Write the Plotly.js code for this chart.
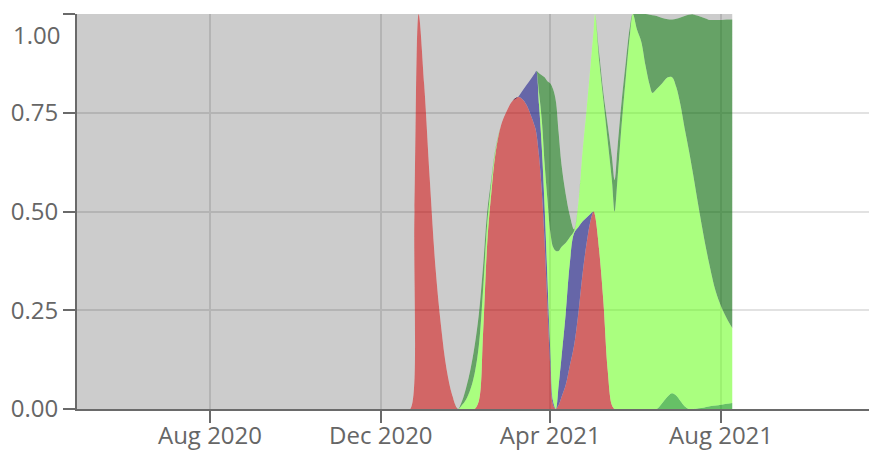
<!DOCTYPE html>
<html>
<head>
<meta charset="utf-8">
<script src="https://cdn.plot.ly/plotly-3.0.1.min.js"></script>
<style>html,body{margin:0;padding:0;background:#fff;}#chart{width:869px;height:452px;}</style>
</head>
<body>
<div id="chart"></div>
<script>
const dates = [
'2020-04-01','2020-06-01','2020-08-01','2020-10-01','2020-12-01','2020-12-15','2020-12-19',
'2020-12-22','2020-12-25','2020-12-28','2021-01-01','2021-01-05','2021-01-09','2021-01-13','2021-01-17','2021-01-21','2021-01-25',
'2021-01-28','2021-01-31','2021-02-03','2021-02-06','2021-02-09','2021-02-12','2021-02-15','2021-02-18','2021-02-21','2021-02-25',
'2021-03-01','2021-03-05','2021-03-09','2021-03-12','2021-03-15','2021-03-18','2021-03-21','2021-03-22','2021-03-24','2021-03-26',
'2021-03-28','2021-03-30','2021-04-01','2021-04-03','2021-04-05','2021-04-07','2021-04-09','2021-04-12','2021-04-15','2021-04-18',
'2021-04-21','2021-04-24','2021-04-27','2021-04-30','2021-05-02','2021-05-03','2021-05-06','2021-05-09','2021-05-12','2021-05-15',
'2021-05-17','2021-05-19','2021-05-22','2021-05-25','2021-05-28','2021-05-30','2021-06-02','2021-06-05','2021-06-08','2021-06-11',
'2021-06-13','2021-06-16','2021-06-20','2021-06-24','2021-06-27','2021-06-30','2021-07-03','2021-07-06','2021-07-09','2021-07-12',
'2021-07-16','2021-07-20','2021-07-24','2021-07-28','2021-08-01','2021-08-05','2021-08-09'
];

const redShare = [
0,0,0,0,0,0,0,
0,0.5,1.0,0.82,0.58,0.36,0.21,0.10,0.035,0,
0,0,0,0,0.02,0.19,0.42,0.55,0.65,0.72,
0.755,0.78,0.79,0.785,0.77,0.745,0.715,0.70,0.64,0.55,
0.42,0.26,0.11,0.01,0,0.01,0.03,0.06,0.11,0.16,
0.24,0.34,0.42,0.48,0.50,0.49,0.40,0.27,0.10,0.01,
0,0,0,0,0,0,0,0,0,0,
0,0,0,0,0,0,0,0,0,0,
0,0,0,0,0,0,0
];

const midGreenShare = [
0,0,0,0,0,0,0,
0,0,0,0,0,0,0,0,0,0,
0,0,0,0,0,0,0,0,0,0,
0,0,0,0,0,0,0,0,0,0,
0,0,0,0,0,0,0,0,0,0,
0,0,0,0,0,0,0,0,0,0,
0,0,0,0,0,0,0,0,0,0,
0,0,0.015,0.032,0.04,0.034,0.02,0.007,0,0,
0.002,0.004,0.007,0.009,0.011,0.013,0.015
];

const blueShare = [
0,0,0,0,0,0,0,
0,0,0,0,0,0,0,0,0,0,
0,0,0,0,0,0,0,0,0,0,
0,0,0,0.02,0.05,0.09,0.135,0.156,0.13,0.11,
0.09,0.07,0.04,0.01,0,0.05,0.10,0.18,0.26,0.285,
0.22,0.135,0.065,0.015,0,0,0,0,0,0,
0,0,0,0,0,0,0,0,0,0,
0,0,0,0,0,0,0,0,0,0,
0,0,0,0,0,0,0
];

const lightGreenShare = [
0,0,0,0,0,0,0,
0,0,0,0,0,0,0,0,0,0,
0.01,0.025,0.05,0.09,0.14,0.11,0.05,0.025,0.008,0,
0,0,0,0,0,0,0,0,0.03,0.07,
0.11,0.20,0.30,0.39,0.40,0.34,0.28,0.18,0.065,0.005,
0.06,0.175,0.275,0.385,0.46,0.51,0.48,0.51,0.58,0.57,
0.50,0.58,0.72,0.84,0.95,1.0,0.96,0.93,0.87,0.82,
0.80,0.81,0.81,0.808,0.80,0.781,0.75,0.703,0.655,0.595,
0.508,0.426,0.353,0.291,0.249,0.217,0.19
];

const darkGreenShare = [
0,0,0,0,0,0,0,
0,0,0,0,0,0,0,0,0,0,
0.01,0.03,0.05,0.07,0.08,0.06,0.03,0.01,0.004,0,
0,0,0,0,0,0,0,0,0.05,0.115,
0.22,0.30,0.375,0.40,0.38,0.30,0.21,0.125,0.055,0.005,
0,0,0,0,0,0,0.02,0.02,0.04,0.06,
0.08,0.08,0.06,0.04,0.02,0,0.04,0.07,0.13,0.178,
0.197,0.185,0.165,0.147,0.146,0.173,0.221,0.285,0.343,0.404,
0.485,0.56,0.625,0.685,0.725,0.756,0.781
];

const yTickVals = [0, 0.25, 0.5, 0.75, 1];
const yTickText = ['0.00', '0.25', '0.50', '0.75', '1.00'];
const xTickStart = '2020-08-01';

// remaining share ("other"), drawn in grey on top of the stack
const otherShare = dates.map((d, i) => Math.max(0,
  1 - (redShare[i] + midGreenShare[i] + blueShare[i] + lightGreenShare[i] + darkGreenShare[i])));

const seriesList = [
  {name: 'red', y: redShare, color: 'rgba(180,0,0,0.6)'},
  {name: 'mid green', y: midGreenShare, color: 'rgba(0,150,0,0.6)'},
  {name: 'blue', y: blueShare, color: 'rgba(0,0,110,0.6)'},
  {name: 'light green', y: lightGreenShare, color: 'rgba(85,255,0,0.5)'},
  {name: 'dark green', y: darkGreenShare, color: 'rgba(0,100,0,0.6)'},
  {name: 'other', y: otherShare, color: 'rgba(0,0,0,0.2)'}
];

const traces = seriesList.map(s => ({
  type: 'scatter', mode: 'lines', x: dates, y: s.y, name: s.name,
  stackgroup: 'one', fillcolor: s.color,
  line: {width: 0, shape: 'spline', smoothing: 1, color: s.color},
  hoverinfo: 'skip'
}));

const labelFont = {family: 'Open Sans, sans-serif', size: 24, color: '#666'};

const axisCommon = {
  showline: true, linecolor: '#6a6a6a', linewidth: 2,
  ticks: 'outside', ticklen: 12, tickwidth: 2, tickcolor: '#6a6a6a',
  showgrid: true, gridcolor: '#e2e2e2', gridwidth: 2,
  zeroline: false,
  tickfont: labelFont
};

// the top label sits just inside the plot, below its tick (as in the reference)
const yTickTextShown = yTickText.map((t, i) => i === yTickText.length - 1 ? '' : t);

const layout = {
  width: 869, height: 452,
  margin: {l: 77, r: 0, t: 14, b: 43, pad: 0},
  paper_bgcolor: '#fff', plot_bgcolor: '#fff',
  showlegend: false,
  xaxis: Object.assign({}, axisCommon, {
    type: 'date', range: ['2020-04-28', '2021-11-14 16:00'],
    tick0: xTickStart, dtick: 'M4', tickformat: '%b %Y',
    ticklabelstandoff: -8
  }),
  yaxis: Object.assign({}, axisCommon, {
    range: [0, 1], tickvals: yTickVals, ticktext: yTickTextShown
  }),
  annotations: [{
    xref: 'paper', yref: 'y', x: 0, y: yTickVals[yTickVals.length - 1],
    xanchor: 'right', yanchor: 'middle', xshift: -15, yshift: -20,
    text: yTickText[yTickText.length - 1], showarrow: false, font: labelFont
  }]
};

Plotly.newPlot('chart', traces, layout, {displayModeBar: false, staticPlot: true});
</script>
</body>
</html>
